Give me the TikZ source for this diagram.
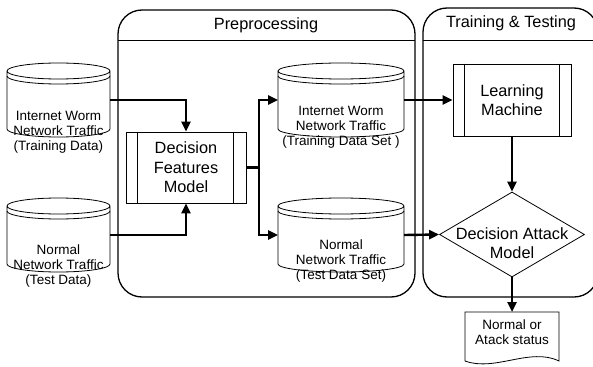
\documentclass[tikz,border=0pt]{standalone}
\usepackage{fontspec}
\setmainfont{Liberation Sans}
\usetikzlibrary{arrows.meta,shapes.geometric,calc}

\tikzset{
  outline/.style={line width=0.8pt},
  panel/.style={line width=1.3pt, rounded corners=24pt},
  flow/.style={line width=2.4pt, -{Triangle[length=10pt,width=9pt]}},
  flowline/.style={line width=2.4pt},
  big/.style={font=\fontsize{16.3}{19.5}\selectfont, align=center, inner sep=0pt},
  small/.style={font=\fontsize{13.5}{15}\selectfont, align=center, inner sep=0pt},
  shapebox/.style={draw=none, inner sep=0pt, outer sep=0pt},
  procbox/.style={draw, outline, big, inner sep=0pt},
}

% database drum: side walls, bottom arc, top ellipse and one extra rim arc
\newcommand\drumdraw[2]{%
  \draw[outline] ([yshift=-8pt]#1.north west) -- ([yshift=8pt]#1.south west)
    arc[start angle=180, end angle=360, x radius=#2, y radius=8pt]
    -- ([yshift=-8pt]#1.north east)
    arc[start angle=0, end angle=360, x radius=#2, y radius=8pt];
  \draw[outline] ([yshift=-13pt]#1.north west)
    arc[start angle=180, end angle=360, x radius=#2, y radius=8pt];
}

\begin{document}
\begin{tikzpicture}[x=1pt, y=-1pt]
  \useasboundingbox (0,0) rectangle (593,366);
  \clip (0,0) rectangle (593,366);

  % panels
  \draw[panel] (118,10) rectangle (415,297);
  \draw[outline] (118,40) -- (415,40);
  \node[big] (ptitle) at (266,25) {Preprocessing};

  \draw[panel] (423,8) rectangle (598,297);
  \draw[outline] (423,40) -- (598,40);
  \node[big] (ttitle) at (511,23) {Training \& Testing};

  % source data drums
  \node[shapebox, minimum width=103pt, minimum height=74pt] (c1) at (58.5,100) {};
  \drumdraw{c1}{51.5pt}
  \node[small] (c1text) at (58.5,132) {Internet Worm\\Network Traffic\\(Training Data)};

  \node[shapebox, minimum width=103pt, minimum height=74pt] (c2) at (58.5,235) {};
  \drumdraw{c2}{51.5pt}
  \node[small] (c2text) at (58.5,266) {Normal\\Network Traffic\\(Test Data)};

  % feature model
  \node[procbox, minimum width=120pt, minimum height=71pt] (dfm) at (186,167.5)
    {Decision\\Features\\Model};
  \draw[outline] ([xshift=12pt]dfm.north west) -- ([xshift=12pt]dfm.south west);
  \draw[outline] ([xshift=-13pt]dfm.north east) -- ([xshift=-13pt]dfm.south east);

  % prepared data drums
  \node[shapebox, minimum width=126pt, minimum height=74pt] (c3) at (341,100) {};
  \drumdraw{c3}{63pt}
  \node[small] (c3text) at (341,127) {Internet Worm\\Network Traffic\\(Training Data Set )};

  \node[shapebox, minimum width=126pt, minimum height=74pt] (c4) at (341,235) {};
  \drumdraw{c4}{63pt}
  \node[small] (c4text) at (341,261) {Normal\\Network Traffic\\(Test Data Set)};

  % learning machine
  \node[procbox, minimum width=118pt, minimum height=72pt] (lm) at (512,100)
    {Learning\\Machine};
  \draw[outline] ([xshift=12pt]lm.north west) -- ([xshift=12pt]lm.south west);
  \draw[outline] ([xshift=-12pt]lm.north east) -- ([xshift=-12pt]lm.south east);

  % decision
  \node[diamond, draw, outline, minimum width=145pt, minimum height=85pt, inner sep=0pt] (dam) at (512,234.5) {};
  \node[big] (damtext) at (512,243) {Decision Attack\\Model};

  % result document
  \node[shapebox, small, minimum width=94pt, minimum height=40pt] (doc) at (512,332)
    {Normal or\\Atack status};
  \draw[outline] (465,361) -- (doc.north west) -- (doc.north east) -- (559,361)
    .. controls (530,347) and (495,372) .. (465,361);

  % connectors
  \draw[flow] (c1.east) -| (dfm.north);
  \draw[flow] (c2.east) -| (dfm.south);
  \coordinate (br) at (259,167.5);
  \draw[flowline] (dfm.east) -- (br);
  \draw[flow] (br) |- (c3.west);
  \draw[flow] (br) |- (c4.west);
  \draw[flow] (c3.east) -- (lm.west);
  \draw[flow] (lm.south) -- (dam.north);
  \draw[flow] (c4.east) -- (dam.west);
  \draw[flow] (dam.south) -- (doc.north);
\end{tikzpicture}
\end{document}
